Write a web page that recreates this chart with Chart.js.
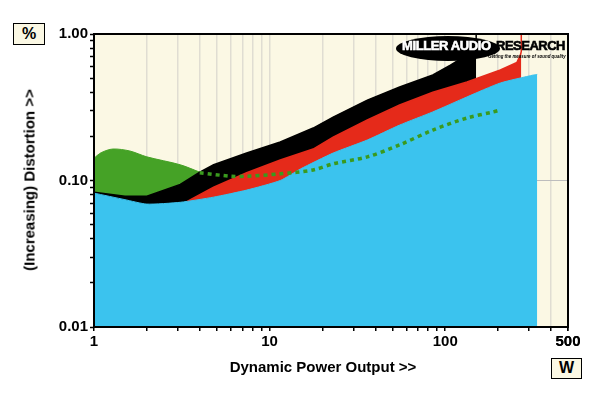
<!DOCTYPE html>
<html><head><meta charset="utf-8">
<script src="https://cdn.jsdelivr.net/npm/chart.js@4.4.1/dist/chart.umd.min.js"></script>
<style>
html,body{margin:0;padding:0;background:#fff;}
#wrap{position:relative;width:600px;height:393px;font-family:"Liberation Sans",Arial,sans-serif;}
canvas{position:absolute;left:0;top:0;}
.box{position:absolute;background:#FBF8E4;border:1.5px solid #000;font-weight:bold;font-size:16px;text-align:center;box-sizing:border-box;}
.title{position:absolute;font-weight:bold;font-size:15px;white-space:nowrap;color:#000;}
#logo{position:absolute;left:396px;top:36px;width:104px;height:25px;border-radius:50%;background:#000;}
#logoTxt{position:absolute;left:402px;top:38px;font-family:"Liberation Sans",Arial;font-weight:bold;font-size:13px;color:#fff;letter-spacing:-0.4px;white-space:nowrap;-webkit-text-stroke:0.6px #fff;}
#logoR{position:absolute;left:496px;top:38px;font-family:"Liberation Sans",Arial;font-weight:bold;font-size:13px;color:#000;letter-spacing:-0.5px;white-space:nowrap;-webkit-text-stroke:0.6px #000;}
#tag{position:absolute;left:488px;top:53px;font-family:"Liberation Sans",Arial;font-weight:bold;font-style:italic;font-size:5px;color:#000;white-space:nowrap;transform-origin:0 0;transform:scaleX(0.88);}
</style></head>
<body>
<div id="wrap">
<canvas id="c" width="600" height="393"></canvas>
<div class="box" style="left:13px;top:23px;width:32px;height:22px;line-height:19px;">%</div>
<div class="box" style="left:551px;top:358px;width:31px;height:21px;line-height:18px;">W</div>
<div class="title" style="left:323px;top:366px;transform:translate(-50%,-50%);">Dynamic Power Output &gt;&gt;</div>
<div class="title" style="left:29px;top:180px;transform:translate(-50%,-50%) rotate(-90deg);">(Increasing) Distortion &gt;&gt;</div>
<div id="logo"></div>
<div id="logoTxt">MILLER AUDIO</div>
<div id="logoR">RESEARCH</div>
<div id="tag">Getting the measure of sound quality</div>
</div>
<script>
// Power (W) and distortion (%)
const blueW   = [1, 1.5, 2, 3.1, 4.8, 7.4, 11.5, 15, 23, 36, 55, 85, 133, 206, 318, 334];
const blueV   = [0.082, 0.074, 0.069, 0.071, 0.077, 0.086, 0.100, 0.120, 0.154, 0.189, 0.239, 0.294, 0.372, 0.463, 0.525, 0.530];

const redW    = [1, 3.1, 4.8, 7.4, 11.5, 17.7, 23, 36, 55, 85, 133, 206, 256, 268, 271, 271];
const redV    = [0.060, 0.068, 0.090, 0.113, 0.138, 0.164, 0.198, 0.259, 0.328, 0.400, 0.470, 0.568, 0.640, 0.720, 0.760, 1.0];

const blackW  = [1, 1.5, 2, 3.1, 4, 4.8, 7.4, 11.5, 17.7, 23, 36, 55, 85, 107, 133, 148, 150, 150];
const blackV  = [0.083, 0.078, 0.078, 0.094, 0.114, 0.128, 0.154, 0.183, 0.228, 0.271, 0.354, 0.435, 0.525, 0.614, 0.720, 0.780, 0.800, 1.0];

const greenW  = [1, 1.1, 1.28, 1.6, 2, 3.1, 4, 4.3];
const greenV  = [0.142, 0.155, 0.164, 0.159, 0.145, 0.128, 0.114, 0.110];

const dotW    = [4, 6, 7.4, 11.5, 17.7, 23, 36, 55, 85, 133, 188, 200];
const dotV    = [0.113, 0.107, 0.107, 0.111, 0.118, 0.130, 0.145, 0.175, 0.221, 0.267, 0.294, 0.300];

const xMajor = [1, 10, 100, 500];
const yMajor = [0.01, 0.1, 1];

const pts = (xs, ys) => xs.map((x, i) => ({x: x, y: ys[i]}));

const frame = {
  id: 'frame',
  beforeDraw(chart) {
    const a = chart.chartArea, ctx = chart.ctx;
    ctx.save(); ctx.fillStyle = '#FBF8E4';
    ctx.fillRect(a.left, a.top, a.right - a.left, a.bottom - a.top);
    ctx.restore();
  },
  afterDraw(chart) {
    const a = chart.chartArea, ctx = chart.ctx;
    ctx.save(); ctx.strokeStyle = '#000'; ctx.lineWidth = 2;
    ctx.strokeRect(a.left, a.top, a.right - a.left, a.bottom - a.top);
    ctx.restore();
  }
};

const fmtY = v => v === 1 ? '1.00' : v === 0.1 ? '0.10' : v === 0.01 ? '0.01' : '';
const near = (v, list) => list.some(m => Math.abs(v - m) / m < 1e-6);

new Chart(document.getElementById('c'), {
  type: 'line',
  data: {
    datasets: [
      {data: pts(dotW, dotV), borderColor: '#3A9A1E', borderWidth: 3.5, borderDash: [4, 4], fill: false, pointRadius: 0, tension: 0.3, order: 0},
      {data: pts(blueW, blueV), backgroundColor: '#3BC3EE', borderColor: '#3BC3EE', borderWidth: 1, fill: 'start', pointRadius: 0, tension: 0.2, order: 1},
      {data: pts(redW, redV), backgroundColor: '#E52A1A', borderColor: '#E52A1A', borderWidth: 1.5, fill: 'start', pointRadius: 0, tension: 0, order: 2},
      {data: pts(blackW, blackV), backgroundColor: '#000', borderColor: '#000', borderWidth: 1.5, fill: 'start', pointRadius: 0, tension: 0, order: 3},
      {data: pts(greenW, greenV), backgroundColor: '#45A226', borderColor: '#45A226', borderWidth: 1, fill: 'start', pointRadius: 0, tension: 0.3, order: 4}
    ]
  },
  options: {
    responsive: false, animation: false,
    layout: {padding: {top: 34, right: 32, left: 0, bottom: 0}},
    plugins: {legend: {display: false}, tooltip: {enabled: false}},
    scales: {
      x: {
        type: 'logarithmic', min: 1, max: 500,
        afterFit(s) { s.height = 66; },
        afterBuildTicks(s) {
          const t = [];
          for (let d = 1; d <= 100; d *= 10) for (let k = 1; k <= 9; k++) if (d * k <= 500) t.push({value: d * k});
          t.push({value: 500});
          s.ticks = t;
        },
        grid: {
          color: c => (c.tick && (c.tick.value === 1 || c.tick.value === 500)) ? 'rgba(0,0,0,0)' : '#E0DDD2',
          lineWidth: 1.5, drawTicks: true, tickLength: 4, tickColor: '#000', tickWidth: 1.5
        },
        border: {display: false},
        ticks: {
          autoSkip: false, maxRotation: 0, padding: 2, color: '#000',
          font: {family: 'Liberation Sans', size: 15, weight: 'bold'},
          callback: v => near(v, xMajor) ? String(v) : ''
        }
      },
      y: {
        type: 'logarithmic', min: 0.01, max: 1,
        afterFit(s) { s.width = 94; },
        afterBuildTicks(s) {
          const t = [];
          for (let d = 0.01; d < 1; d *= 10) for (let k = 1; k <= 9; k++) t.push({value: +(d * k).toPrecision(3)});
          t.push({value: 1});
          s.ticks = t;
        },
        grid: {
          color: c => (c.tick && Math.abs(c.tick.value - 0.1) < 1e-9) ? '#BDBDBD' : 'rgba(0,0,0,0)',
          lineWidth: 1, drawTicks: true, tickLength: 4, tickColor: '#000', tickWidth: 1.5
        },
        border: {display: false},
        ticks: {
          autoSkip: false, padding: 2, color: '#000',
          font: {family: 'Liberation Sans', size: 15, weight: 'bold'},
          callback: v => fmtY(+(+v).toPrecision(3))
        }
      }
    }
  },
  plugins: [frame]
});
</script>
</body></html>
